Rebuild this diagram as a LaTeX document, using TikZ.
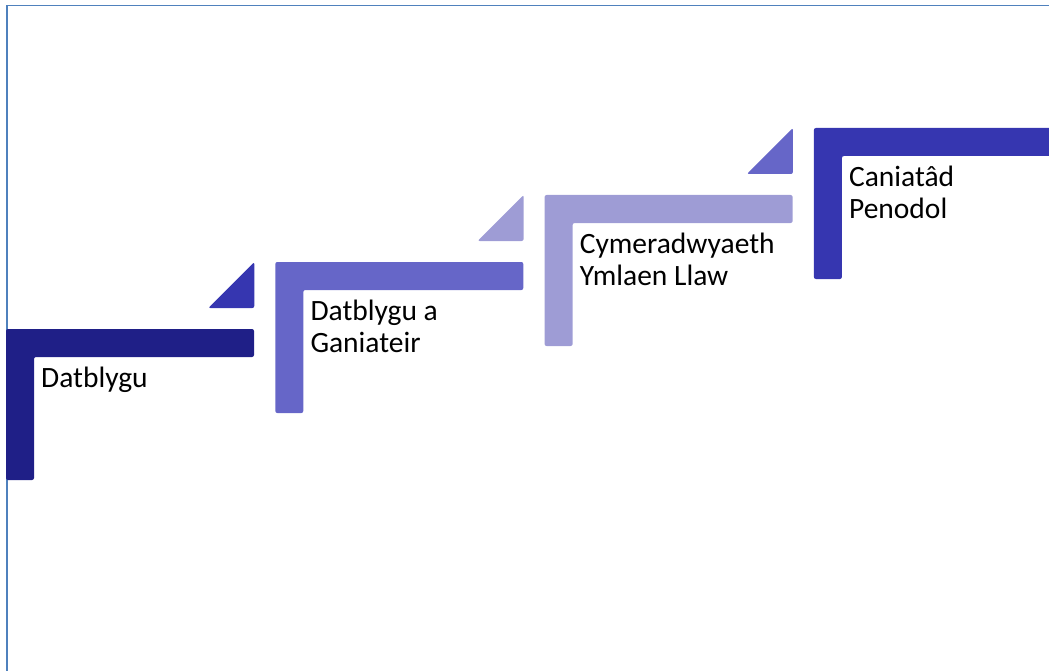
\documentclass[tikz,border=0pt]{standalone}
\usepackage{fontspec}
\setmainfont{Carlito}
\definecolor{stepnavy}{HTML}{1F1F87}
\definecolor{stepblue}{HTML}{3636B0}
\definecolor{stepviolet}{HTML}{6666C8}
\definecolor{steplilac}{HTML}{9E9CD5}
\definecolor{frameblue}{HTML}{4F81BD}

\tikzstyle{stepbar}=[
    rounded corners=2pt,
  ]
\tikzstyle{steplabel}=[
    anchor=north west,
    inner sep=0pt,
    align=left,
    font=\fontsize{29.5}{31.5}\selectfont,
  ]
\tikzstyle{pageframe}=[
    draw=frameblue,
    line width=1.5pt,
  ]

\begin{document}
\begin{tikzpicture}[x=1pt, y=-1pt]
      \useasboundingbox (0,0) rectangle (1049,671);
      \draw[pageframe] (1049,5.5) -- (7,5.5) -- (7,671);
      \foreach \col/\tri/\txt [count=\i from 0] in {stepnavy/none/Datblygu,
          stepviolet/stepblue/{Datblygu a\\Ganiateir},
          steplilac/steplilac/{Cymeradwyaeth\\Ymlaen Llaw},
          stepblue/stepviolet/{Caniatâd\\Penodol}} {%
        \pgfmathsetmacro\sx{6+269.3*\i}
        \pgfmathsetmacro\sy{329-67*\i}
        \fill[stepbar, \col] (\sx,\sy) -- ++(248,0) -- ++(0,28) -- ++(-220,0)
          -- ++(0,123) -- ++(-28,0) -- cycle;
        \ifnum\i>0
          \fill[stepbar, \tri] (\sx-21,\sy) -- ++(0,46) -- ++(-46,0) -- cycle;
        \fi
        % strut: first baseline sits 0.7*31.5pt below the node top
        \node[steplabel] (step\i) at (\sx+35,\sy+36.5) {\strut\txt};
      }
    \end{tikzpicture}
\end{document}
